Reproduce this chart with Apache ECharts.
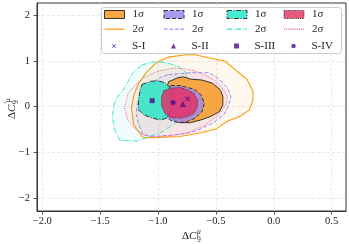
<!DOCTYPE html>
<html><head><meta charset="utf-8">
<script src="https://cdn.jsdelivr.net/npm/echarts@6/dist/echarts.min.js"></script>
<style>html,body{margin:0;padding:0;background:#fff}#c{width:349px;height:244px}</style>
</head><body><div id="c"></div>
<script>
// ---- data ----
const xTicks = [-2.0, -1.5, -1.0, -0.5, 0.0, 0.5];
const yTicks = [-2, -1, 0, 1, 2];

const orange2 = [[-0.76,1.13],[-0.68,1.13],[-0.42,0.99],[-0.23,0.59],[-0.18,0.33],[-0.18,0.15],[-0.21,-0.07],[-0.29,-0.21],[-0.40,-0.32],[-0.50,-0.49],[-0.63,-0.57],[-0.81,-0.65],[-0.98,-0.67],[-1.12,-0.68],[-1.14,-0.65],[-1.21,-0.39],[-1.23,-0.03],[-1.21,0.25],[-1.17,0.50],[-1.11,0.72],[-1.02,0.95],[-0.91,1.08]];
const purple2 = [[-0.91,0.70],[-0.72,0.74],[-0.56,0.74],[-0.485,0.63],[-0.40,0.41],[-0.37,0.22],[-0.39,0.02],[-0.43,-0.17],[-0.52,-0.35],[-0.66,-0.52],[-0.81,-0.61],[-1.04,-0.65],[-1.13,-0.61],[-1.17,-0.37],[-1.19,-0.15],[-1.18,0.04],[-1.14,0.28],[-1.07,0.50],[-0.97,0.65]];
const turq2 = [[-1.14,0.91],[-1.04,0.98],[-0.94,0.96],[-0.83,0.89],[-0.76,0.74],[-0.74,0.46],[-0.73,0.15],[-0.76,-0.11],[-0.82,-0.30],[-0.89,-0.43],[-0.98,-0.57],[-1.09,-0.67],[-1.18,-0.75],[-1.33,-0.74],[-1.37,-0.54],[-1.395,-0.24],[-1.38,0.04],[-1.35,0.22],[-1.30,0.37],[-1.265,0.52],[-1.22,0.73]];
const pink2 = [[-1.005,0.77],[-0.87,0.84],[-0.78,0.83],[-0.66,0.76],[-0.52,0.59],[-0.44,0.39],[-0.40,0.22],[-0.415,0.04],[-0.485,-0.20],[-0.60,-0.41],[-0.74,-0.57],[-0.89,-0.63],[-1.04,-0.67],[-1.135,-0.61],[-1.21,-0.46],[-1.265,-0.28],[-1.29,-0.02],[-1.26,0.28],[-1.21,0.44],[-1.13,0.63]];

const orange1 = [[-0.91,0.54],[-0.83,0.63],[-0.78,0.65],[-0.72,0.60],[-0.62,0.58],[-0.53,0.51],[-0.46,0.36],[-0.44,0.22],[-0.44,0.04],[-0.47,-0.11],[-0.55,-0.22],[-0.63,-0.29],[-0.72,-0.35],[-0.82,-0.35],[-0.89,-0.24],[-0.93,-0.02],[-0.93,0.33]];
const purple1 = [[-0.89,0.46],[-0.81,0.46],[-0.69,0.38],[-0.63,0.26],[-0.60,0.07],[-0.62,-0.11],[-0.68,-0.25],[-0.75,-0.33],[-0.82,-0.35],[-0.89,-0.30],[-0.94,-0.20],[-0.95,0.02],[-0.94,0.26]];
const turq1 = [[-1.14,0.48],[-1.07,0.55],[-1.0,0.565],[-0.94,0.52],[-0.90,0.43],[-0.885,0.26],[-0.885,-0.02],[-0.92,-0.25],[-0.98,-0.29],[-1.05,-0.25],[-1.12,-0.18],[-1.17,-0.07],[-1.17,0.15],[-1.155,0.35]];
const pink1 = [[-0.95,0.35],[-0.89,0.40],[-0.81,0.42],[-0.75,0.37],[-0.69,0.29],[-0.66,0.15],[-0.66,0.0],[-0.69,-0.15],[-0.75,-0.22],[-0.81,-0.25],[-0.89,-0.24],[-0.94,-0.15],[-0.97,0.02],[-0.97,0.22]];

const pointNames = ['S-I', 'S-II', 'S-III', 'S-IV'];
const pointValues = [[-0.745, 0.17], [-0.786, 0.06], [-1.051, 0.13], [-0.869, 0.09]];

// ---- styling ----
const FONT = '"Liberation Serif", "DejaVu Serif", serif';
const MARK = '#4a0d87';
const DASH = [4, 2];
const DASHDOT = [5, 1.5, 1, 1.5];
const DOT = [1, 1.2];
const symbols = ['path://M0,1.4L1.4,0L5,3.6L8.6,0L10,1.4L6.4,5L10,8.6L8.6,10L5,6.4L1.4,10L0,8.6L3.6,5Z', 'triangle', 'rect', 'circle'];
const symSizes = [5, 6, 5, 5];
const legendSymSizes = [4, 5, 5, 4.5];

const polys = [
  {name: 'o2', pts: orange2, style: {fill: 'rgba(255,160,40,0.08)', stroke: '#ff9a10', lineWidth: 1.1, lineDash: null}},
  {name: 'p2', pts: purple2, style: {fill: 'rgba(150,120,230,0.07)', stroke: '#9c8cff', lineWidth: 1, lineDash: DASH}},
  {name: 't2', pts: turq2, style: {fill: 'rgba(60,230,210,0.08)', stroke: '#2ee6cf', lineWidth: 1, lineDash: DASHDOT}},
  {name: 'k2', pts: pink2, style: {fill: 'rgba(235,80,120,0.06)', stroke: '#f0607e', lineWidth: 1, lineDash: DOT}},
  {name: 'o1', pts: orange1, style: {fill: 'rgba(245,160,50,0.9)', stroke: '#333', lineWidth: 1, lineDash: null}},
  {name: 'p1', pts: purple1, style: {fill: 'rgba(160,135,235,0.8)', stroke: '#333', lineWidth: 1, lineDash: DASH}},
  {name: 't1', pts: turq1, style: {fill: 'rgba(60,228,200,0.92)', stroke: '#333', lineWidth: 1, lineDash: DASHDOT}},
  {name: 'k1', pts: pink1, style: {fill: 'rgba(225,50,108,0.85)', stroke: '#333', lineWidth: 1, lineDash: DOT}}
];

function polySeries(p, z) {
  return {
    type: 'custom', name: p.name, z: z,
    data: p.pts,
    renderItem: function (params, api) {
      if (params.dataIndex !== 0) return null;
      return {type: 'polygon', shape: {points: p.pts.map(q => api.coord(q))}, style: Object.assign({}, p.style)};
    }
  };
}

const series = polys.map(p => polySeries(p, 2));
pointNames.forEach((n, i) => {
  series.push({type: 'scatter', name: n, z: 5, symbol: symbols[i], symbolSize: symSizes[i],
    itemStyle: {color: MARK}, data: [pointValues[i]]});
});

const labelMap = {o1: '1σ', p1: '1σ', t1: '1σ', k1: '1σ', o2: '2σ', p2: '2σ', t2: '2σ', k2: '2σ',
  'S-I': 'S-I', 'S-II': 'S-II', 'S-III': 'S-III', 'S-IV': 'S-IV'};

function dashPath(pattern) {
  let x = 0, s = '', i = 0;
  while (x < 20) {
    const on = Math.min(pattern[i % pattern.length], 20 - x);
    s += 'M' + x + ',0h' + on + 'v1.2h-' + on + 'z';
    x += on + pattern[(i + 1) % pattern.length];
    i += 2;
  }
  return 'path://' + s;
}
const colLeft = [104, 163.5, 226.5, 283.5];
const rectItems = [
  {name: 'o1', icon: 'rect', itemStyle: {color: '#f6a642', borderColor: '#333', borderWidth: 1, borderType: 'solid'}},
  {name: 'p1', icon: 'rect', itemStyle: {color: '#a898f0', borderColor: '#333', borderWidth: 1, borderType: DASH}},
  {name: 't1', icon: 'rect', itemStyle: {color: '#45ecd2', borderColor: '#333', borderWidth: 1, borderType: DASHDOT}},
  {name: 'k1', icon: 'rect', itemStyle: {color: '#e65a80', borderColor: '#333', borderWidth: 1, borderType: DOT}}
];
const lineItems = [
  {name: 'o2', icon: 'path://M0,0h20v1.2h-20z', itemStyle: {color: '#ff9a10', borderWidth: 0}},
  {name: 'p2', icon: dashPath([3.5, 2]), itemStyle: {color: '#9c8cff', borderWidth: 0}},
  {name: 't2', icon: dashPath([5, 1.5, 1, 1.5]), itemStyle: {color: '#2ee6cf', borderWidth: 0}},
  {name: 'k2', icon: dashPath([1, 1]), itemStyle: {color: '#f0607e', borderWidth: 0}}
];
const textStyle = {fontFamily: FONT, fontSize: 11, color: '#222', lineHeight: 12, padding: [0, 0, 0, 3]};
const legends = [];
for (let c = 0; c < 4; c++) {
  legends.push({orient: 'vertical', left: colLeft[c], top: 8.5, padding: 0, itemGap: 2.7,
    itemWidth: 20, itemHeight: 8, selectedMode: false, textStyle: textStyle,
    formatter: n => labelMap[n], data: [rectItems[c], lineItems[c]]});
  const s = legendSymSizes[c];
  legends.push({orient: 'vertical', left: colLeft[c] + 10 - s / 2, top: 40, padding: 0,
    itemWidth: s, itemHeight: s, selectedMode: false,
    textStyle: Object.assign({}, textStyle, {padding: [0, 0, 0, 28 - (10 + s / 2) - 5]}),
    formatter: n => labelMap[n], data: [pointNames[c]]});
}

const fmt = v => (Math.abs(v) < 1e-9 ? '0.0' : v.toFixed(1).replace('-', '\u2212'));
const fmtY = v => String(Math.round(v)).replace('-', '\u2212');

const option = {
  animation: false,
  backgroundColor: '#fff',
  grid: {left: 37, right: 3, top: 3, bottom: 33, show: true, borderColor: '#333', borderWidth: 1, backgroundColor: '#fff'},
  xAxis: {type: 'value', min: -2.046, max: 0.624,
    axisLine: {show: true, onZero: false, lineStyle: {color: '#333', width: 1}},
    axisTick: {show: true, customValues: xTicks, length: 3.5, lineStyle: {color: '#333', width: 0.8}},
    axisLabel: {customValues: xTicks, formatter: fmt, margin: 5, fontFamily: FONT, fontSize: 10.5, color: '#222'},
    splitLine: {show: true, lineStyle: {color: '#e2e2e2', type: [3, 2], width: 0.8}}},
  yAxis: {type: 'value', min: -2.276, max: 2.26,
    axisLine: {show: true, onZero: false, lineStyle: {color: '#333', width: 1}},
    axisTick: {show: true, customValues: yTicks, length: 3.5, lineStyle: {color: '#333', width: 0.8}},
    axisLabel: {customValues: yTicks, formatter: fmtY, margin: 7, fontFamily: FONT, fontSize: 10.5, color: '#222'},
    splitLine: {show: true, lineStyle: {color: '#e2e2e2', type: [3, 2], width: 0.8}}},
  legend: legends,
  graphic: [
    {type: 'rect', z: 3, shape: {x: 101.5, y: 7.5, width: 240, height: 46, r: 3},
      style: {fill: 'rgba(255,255,255,0.85)', stroke: '#cccccc', lineWidth: 1}},
    {type: 'group', x: 182, y: 236, children: [
      {type: 'text', x: 0, y: 0, style: {text: 'Δ', fontFamily: FONT, fontSize: 11, fill: '#222', verticalAlign: 'middle'}},
      {type: 'text', x: 7, y: 0, style: {text: 'C', fontFamily: FONT, fontStyle: 'italic', fontSize: 11, fill: '#222', verticalAlign: 'middle'}},
      {type: 'text', x: 15, y: -4, style: {text: 'μ', fontFamily: FONT, fontStyle: 'italic', fontSize: 7.5, fill: '#222', verticalAlign: 'middle'}},
      {type: 'text', x: 15, y: 4, style: {text: '9', fontFamily: FONT, fontSize: 7.5, fill: '#222', verticalAlign: 'middle'}}
    ]},
    {type: 'group', x: 12, y: 119, rotation: Math.PI / 2, children: [
      {type: 'text', x: 0, y: 0, style: {text: 'Δ', fontFamily: FONT, fontSize: 11, fill: '#222', verticalAlign: 'middle'}},
      {type: 'text', x: 7, y: 0, style: {text: 'C', fontFamily: FONT, fontStyle: 'italic', fontSize: 11, fill: '#222', verticalAlign: 'middle'}},
      {type: 'text', x: 15, y: -4, style: {text: '′μ', fontFamily: FONT, fontStyle: 'italic', fontSize: 7.5, fill: '#222', verticalAlign: 'middle'}},
      {type: 'text', x: 15, y: 4, style: {text: '9', fontFamily: FONT, fontSize: 7.5, fill: '#222', verticalAlign: 'middle'}}
    ]}
  ],
  series: series
};
const chart = echarts.init(document.getElementById('c'), null, {renderer: 'canvas'});
chart.setOption(option);
</script>
</body></html>
